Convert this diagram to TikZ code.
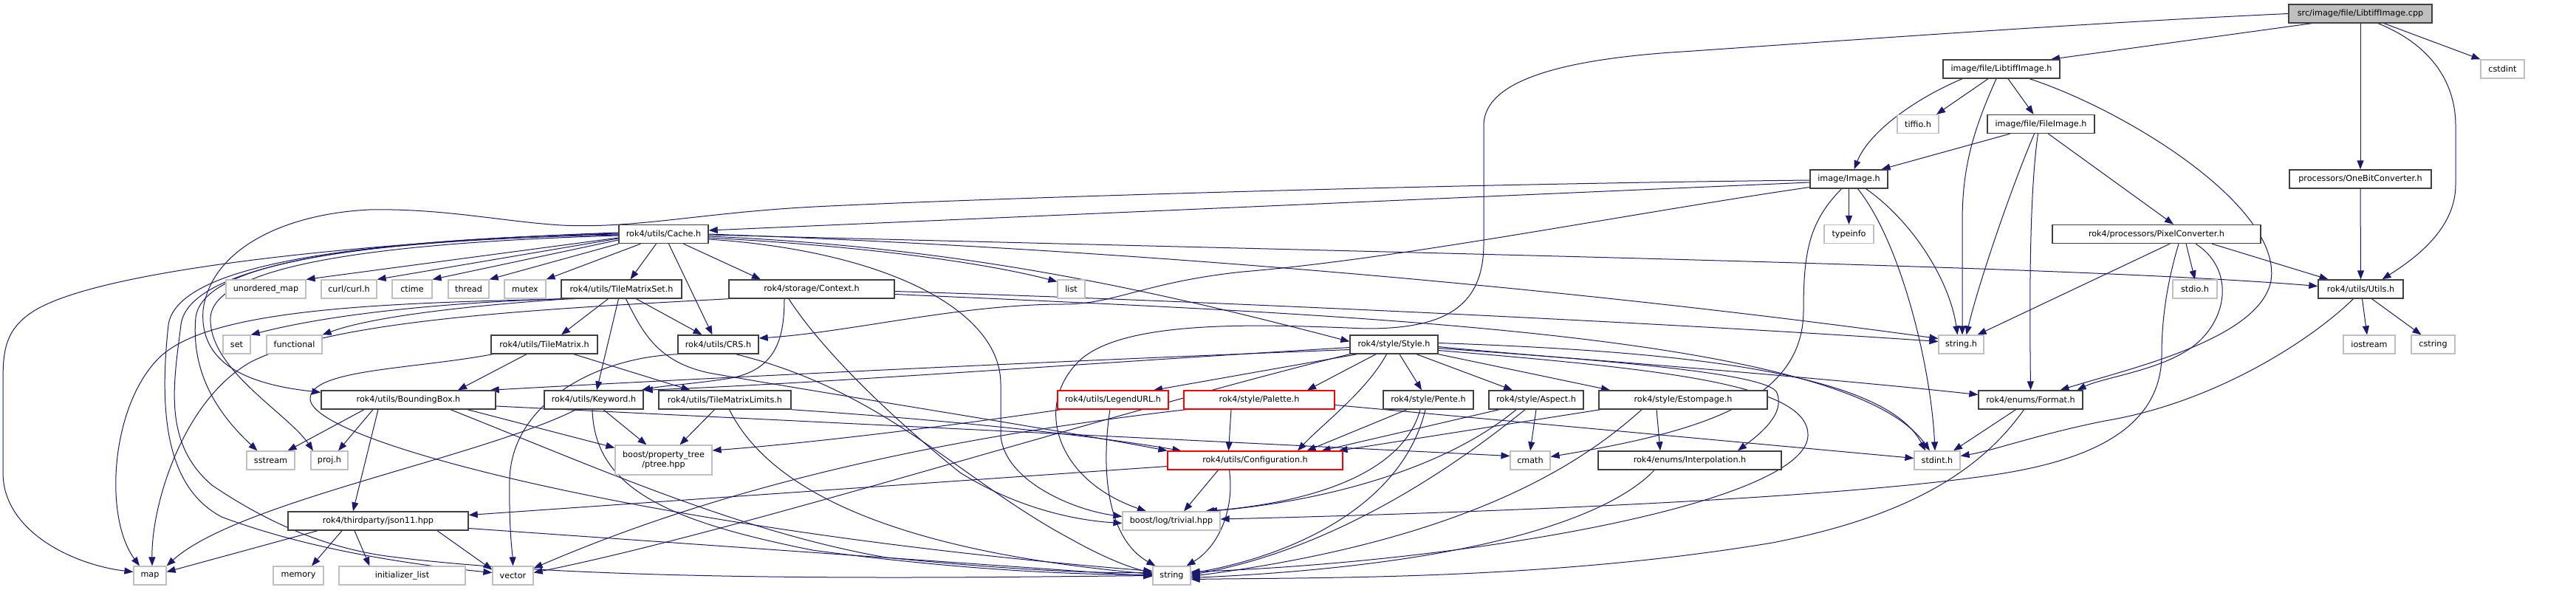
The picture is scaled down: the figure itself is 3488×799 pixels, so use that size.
\documentclass[tikz,border=0pt]{standalone}
\usepackage{fontspec}
\setmainfont{DejaVu Sans}
\usetikzlibrary{arrows.meta,backgrounds}
\definecolor{edgecol}{RGB}{25,25,112}
\definecolor{darkb}{RGB}{64,64,64}
\definecolor{greyb}{RGB}{191,191,191}
\definecolor{redb}{RGB}{255,0,0}
\definecolor{rootfill}{RGB}{191,191,191}
\newcommand{\mknode}[7]{\node[#1, minimum width=#5pt, minimum height=#6pt] (#2) at (#3,#4) {#7};}
\begin{document}
\begin{tikzpicture}[x=1pt,y=-1pt,
 base/.style={rectangle, inner sep=0pt, font=\fontsize{11.2}{13.4}\selectfont, align=center},
 nb/.style={base, draw=darkb, line width=1.4pt, fill=white},
 ng/.style={base, draw=greyb, line width=1.2pt, fill=white},
 nr/.style={base, draw=redb, line width=1.1pt, fill=white},
 nroot/.style={base, draw=darkb, line width=1.4pt, fill=rootfill},
 e/.style={draw=edgecol, line width=1pt, -{Triangle[length=12pt,width=9pt]}}]
\useasboundingbox (0,0) rectangle (3488,799);
% nodes
\mknode{nroot}{cpp}{3196}{18.5}{194}{25}{src/image/file/LibtiffImage.cpp}
\mknode{nb}{libh}{2710}{93.5}{158}{25}{image/file/LibtiffImage.h}
\mknode{ng}{cstdint}{3388.5}{93.5}{59}{25}{cstdint}
\mknode{ng}{tiffio}{2597}{168}{56}{25}{tiffio.h}
\mknode{nb}{fileimg}{2763.5}{168}{145}{25}{image/file/FileImage.h}
\mknode{nb}{image}{2503.5}{242.5}{105}{25}{image/Image.h}
\mknode{nb}{onebit}{3196}{242.5}{192}{25}{processors/OneBitConverter.h}
\mknode{nb}{cache}{898.5}{317}{121}{25}{rok4/utils/Cache.h}
\mknode{ng}{typeinfo}{2503.5}{317}{67}{25}{typeinfo}
\mknode{nb}{pixconv}{2920}{317}{282}{25}{rok4/processors/PixelConverter.h}
\mknode{ng}{umap}{360}{391.5}{108}{25}{unordered\_map}
\mknode{ng}{curl}{472.5}{391.5}{75}{25}{curl/curl.h}
\mknode{ng}{ctime}{558}{391.5}{54}{25}{ctime}
\mknode{ng}{thread}{634.5}{391.5}{55}{25}{thread}
\mknode{ng}{mutex}{711}{391.5}{56}{25}{mutex}
\mknode{nb}{tms}{841.5}{391.5}{163}{25}{rok4/utils/TileMatrixSet.h}
\mknode{nb}{context}{1099}{391.5}{224}{25}{rok4/storage/Context.h}
\mknode{ng}{list}{1450.5}{391.5}{37}{25}{list}
\mknode{nb}{utils}{3196.5}{391.5}{115}{25}{rok4/utils/Utils.h}
\mknode{ng}{stdio}{2972}{391.5}{60}{25}{stdio.h}
\mknode{ng}{set}{320.5}{466.5}{37}{25}{set}
\mknode{ng}{functional}{398.5}{466.5}{75}{25}{functional}
\mknode{nb}{tm}{737}{466.5}{144}{25}{rok4/utils/TileMatrix.h}
\mknode{nb}{crs}{972.5}{466.5}{109}{25}{rok4/utils/CRS.h}
\mknode{nb}{style}{1887.5}{466.5}{119}{25}{rok4/style/Style.h}
\mknode{ng}{stringh}{2655.5}{466.5}{61}{25}{string.h}
\mknode{ng}{iostream}{3208}{466.5}{70}{25}{iostream}
\mknode{ng}{cstring}{3294.5}{466.5}{59}{25}{cstring}
\mknode{nb}{bbox}{553}{541.5}{236}{25}{rok4/utils/BoundingBox.h}
\mknode{nb}{keyword}{804}{541.5}{134}{25}{rok4/utils/Keyword.h}
\mknode{nb}{tml}{981.5}{541.5}{179}{25}{rok4/utils/TileMatrixLimits.h}
\mknode{nr}{legend}{1507}{541.5}{150}{25}{rok4/utils/LegendURL.h}
\mknode{nr}{palette}{1705}{541.5}{204}{25}{rok4/style/Palette.h}
\mknode{nb}{pente}{1934}{541.5}{122}{25}{rok4/style/Pente.h}
\mknode{nb}{aspect}{2080}{541.5}{128}{25}{rok4/style/Aspect.h}
\mknode{nb}{estomp}{2279}{541.5}{228}{25}{rok4/style/Estompage.h}
\mknode{nb}{format}{2749.5}{541.5}{141}{25}{rok4/enums/Format.h}
\mknode{ng}{sstream}{366.5}{623.5}{65}{25}{sstream}
\mknode{ng}{proj}{446}{623.5}{50}{25}{proj.h}
\mknode{ng}{ptree}{898.5}{623}{131}{40}{boost/property\_tree\\/ptree.hpp}
\mknode{nr}{config}{1699.5}{623.5}{237}{25}{rok4/utils/Configuration.h}
\mknode{ng}{cmath}{2072}{623.5}{54}{25}{cmath}
\mknode{nb}{interp}{2288}{623.5}{248}{25}{rok4/enums/Interpolation.h}
\mknode{ng}{stdint}{2623}{623.5}{62}{25}{stdint.h}
\mknode{nb}{json}{512}{705.5}{244}{25}{rok4/thirdparty/json11.hpp}
\mknode{ng}{trivial}{1586}{705.5}{132}{25}{boost/log/trivial.hpp}
\mknode{ng}{map}{203}{779.5}{44}{25}{map}
\mknode{ng}{memory}{404}{779.5}{68}{25}{memory}
\mknode{ng}{initlist}{544.5}{779.5}{171}{25}{initializer\_list}
\mknode{ng}{vector}{694.5}{779.5}{55}{25}{vector}
\mknode{ng}{string}{1586.5}{779.5}{51}{25}{string}
\begin{pgfonlayer}{background}
\fill[white] (0,0) rectangle (3488,799);
% cpp
\draw[e] ([xshift=-66pt]cpp.south) -- ([xshift=67pt]libh.north);
\draw[e] (cpp.west) .. controls (2800,32) and (2400,62) .. (2263,71) .. controls (2080,84) and (2009,120) .. (2009,170) -- (2009,330) .. controls (2009,420) and (1950,445) .. (1850,445) .. controls (1720,440) and (1520,430) .. (1460,490) .. controls (1400,550) and (1430,650) .. ([xshift=-34pt]trivial.north);
\draw[e] (cpp.south) -- (onebit.north);
\draw[e] ([xshift=24pt]cpp.south) .. controls (3290,60) and (3325,110) .. (3325,170) -- (3325,250) .. controls (3325,310) and (3270,350) .. ([xshift=29pt]utils.north);
\draw[e] ([xshift=32pt]cpp.south) -- ([xshift=-30pt]cstdint.north);
% libh
\draw[e] ([xshift=-53pt]libh.south) .. controls (2590,135) and (2530,180) .. ([xshift=7pt]image.north);
\draw[e] ([xshift=-18pt]libh.south) -- ([xshift=25pt]tiffio.north);
\draw[e] ([xshift=-7pt]libh.south) .. controls (2670,180) and (2657,230) .. (2657,300) -- ([xshift=1.5pt]stringh.north);
\draw[e] ([xshift=9pt]libh.south) -- ([xshift=-10pt]fileimg.north);
\draw[e] ([xshift=38pt]libh.south) .. controls (2880,150) and (3090,280) .. (3075,380) .. controls (3060,460) and (2880,500) .. ([xshift=40pt]format.north);
% fileimg
\draw[e] ([xshift=-42pt]fileimg.south) -- ([xshift=44pt]image.north);
\draw[e] ([xshift=-9pt]fileimg.south) .. controls (2725,250) and (2680,380) .. ([xshift=7pt]stringh.north);
\draw[e] ([xshift=-4pt]fileimg.south) .. controls (2748,260) and (2748,400) .. (format.north);
\draw[e] ([xshift=10pt]fileimg.south) -- ([xshift=23pt]pixconv.north);
% onebit
\draw[e] (onebit.south) -- (utils.north);
% image
\draw[e] ([yshift=-1.5pt]image.west) .. controls (1900,250) and (1300,270) .. (1103,280) .. controls (950,288) and (860,310) .. (760,305) .. controls (680,300) and (600,282) .. (500,284) .. controls (380,290) and (285,340) .. (275,420) .. controls (270,490) and (330,520) .. ([yshift=-3pt]bbox.north west);
\draw[e] ([yshift=-4.5pt]image.west) -- ([yshift=5pt]cache.east);
\draw[e] ([yshift=-11pt]image.west) .. controls (2200,290) and (1900,350) .. (1683,368) .. controls (1550,382) and (1510,412) .. (1440,412) .. controls (1300,412) and (1150,450) .. ([yshift=8.5pt]crs.east);
\draw[e] (image.south) -- (typeinfo.north);
\draw[e] ([xshift=12pt]image.south) .. controls (2575,330) and (2615,500) .. ([xshift=-3pt]stdint.north);
\draw[e] ([xshift=23pt]image.south) .. controls (2590,300) and (2640,380) .. ([xshift=-5pt]stringh.north);
\draw[e] ([xshift=-10pt]image.south) .. controls (2450,300) and (2442,340) .. (2442,420) .. controls (2442,545) and (2300,585) .. ([yshift=5pt]cmath.east);
% utils
\draw[e] ([xshift=2pt]utils.south) -- ([xshift=-3pt]iostream.north);
\draw[e] ([xshift=15pt]utils.south) -- ([xshift=-16pt]cstring.north);
\draw[e] ([xshift=-10pt]utils.south) .. controls (3130,460) and (3000,545) .. (2850,570) .. controls (2760,588) and (2700,610) .. ([yshift=6pt]stdint.east);
% pixconv
\draw[e] ([xshift=18pt]pixconv.south) -- ([xshift=22pt]stringh.north);
\draw[e] ([xshift=40pt]pixconv.south) -- (stdio.north);
\draw[e] ([xshift=75pt]pixconv.south) -- ([xshift=-44pt]utils.north);
\draw[e] ([xshift=53pt]pixconv.south) .. controls (3020,360) and (3020,420) .. (2980,460) .. controls (2940,500) and (2850,510) .. ([xshift=63pt]format.north);
\draw[e] ([xshift=30pt]pixconv.south) .. controls (2935,380) and (2927,430) .. (2927,480) .. controls (2927,585) and (2820,625) .. (2700,643) .. controls (2450,680) and (1900,697) .. ([yshift=2.5pt]trivial.east);
% format
\draw[e] ([xshift=-20pt]format.south) -- ([xshift=22pt]stdint.north);
\draw[e] ([xshift=-9pt]format.south) .. controls (2680,640) and (2580,700) .. (2400,735) .. controls (2100,785) and (1800,782) .. ([yshift=-5pt]string.east);
% interp
\draw[e] ([xshift=-48pt]interp.south) .. controls (2180,700) and (2000,765) .. ([yshift=-3pt]string.east);
% estomp
\draw[e] ([xshift=-112pt]estomp.south) -- ([xshift=113pt]config.north);
\draw[e] ([xshift=-36pt]estomp.south) -- ([xshift=-40pt]interp.north);
\draw[e] ([xshift=-56pt]estomp.south) .. controls (2150,620) and (2000,730) .. ([yshift=-1pt]string.east);
% aspect
\draw[e] ([xshift=-50pt]aspect.south) -- ([xshift=90pt]config.north);
\draw[e] ([xshift=-27pt]aspect.south) .. controls (1950,640) and (1780,680) .. ([xshift=50pt]trivial.north);
\draw[e] ([xshift=-15pt]aspect.south) .. controls (1960,640) and (1800,745) .. ([yshift=1pt]string.east);
\draw[e] (aspect.south) -- (cmath.north);
% pente
\draw[e] ([xshift=-29pt]pente.south) -- ([xshift=70pt]config.north);
\draw[e] ([xshift=-11pt]pente.south) .. controls (1900,640) and (1780,680) .. ([xshift=46pt]trivial.north);
\draw[e] ([xshift=-4pt]pente.south) .. controls (1900,680) and (1760,750) .. ([yshift=3pt]string.east);
% style
\draw[e] ([yshift=-4pt]style.west) .. controls (1500,490) and (1100,520) .. (keyword.north east);
\draw[e] ([yshift=-7pt]style.west) .. controls (1400,490) and (900,515) .. ([xshift=-8pt]bbox.north east);
\draw[e] ([xshift=-50pt]style.south) -- ([xshift=55pt]legend.north);
\draw[e] ([xshift=-24.5pt]style.south) -- ([xshift=65pt]palette.north);
\draw[e] ([xshift=-10pt]style.south) .. controls (1850,530) and (1790,575) .. ([xshift=57.5pt]config.north);
\draw[e] ([xshift=7.5pt]style.south) -- ([xshift=-9pt]pente.north);
\draw[e] ([xshift=30.5pt]style.south) -- ([xshift=-32pt]aspect.north);
\draw[e] (style.south east) -- ([xshift=-99pt]estomp.north);
\draw[e] ([yshift=-3pt]style.east) .. controls (2100,485) and (2380,500) .. (2405,530) .. controls (2420,560) and (2380,590) .. ([xshift=65pt]interp.north);
\draw[e] ([yshift=-5pt]style.east) .. controls (2200,490) and (2500,515) .. ([yshift=7pt]format.west);
\draw[e] ([yshift=2pt]style.east) .. controls (2250,475) and (2550,500) .. ([xshift=-16pt]stdint.north);
\draw[e] ([yshift=-8pt]style.east) .. controls (2250,500) and (2450,520) .. (2448,590) .. controls (2445,680) and (2000,760) .. ([yshift=5pt]string.east);
\draw[e] (style.south west) .. controls (1500,560) and (1000,720) .. ([yshift=4pt]vector.east);
% legend
\draw[e] ([xshift=-70pt]legend.south) .. controls (1300,575) and (1100,600) .. ([yshift=13pt]ptree.east);
\draw[e] ([xshift=-4pt]legend.south) .. controls (1490,640) and (1500,730) .. ([xshift=-22pt]string.north);
% palette
\draw[e] ([xshift=-38pt]palette.south) -- ([xshift=-36pt]config.north);
\draw[e] ([yshift=-7pt]palette.east) -- ([yshift=3pt]stdint.west);
\draw[e] ([xshift=-98pt]palette.south) .. controls (1300,590) and (1000,650) .. ([yshift=10pt]vector.east);
% config
\draw[e] ([yshift=-8pt]config.west) -- ([yshift=8pt]json.east);
\draw[e] ([xshift=-50pt]config.south) -- ([xshift=17pt]trivial.north);
\draw[e] ([xshift=-35pt]config.south) .. controls (1672,690) and (1650,740) .. ([xshift=20pt]string.north);
% json
\draw[e] ([xshift=-82pt]json.south) -- ([yshift=5pt]map.east);
\draw[e] ([xshift=-49pt]json.south) -- ([xshift=18pt]memory.north);
\draw[e] ([xshift=-32pt]json.south) -- ([xshift=-44pt]initlist.north);
\draw[e] ([xshift=80pt]json.south) -- ([yshift=8pt]vector.west);
\draw[e] ([yshift=-10pt]json.east) -- ([yshift=-1pt]string.west);
% keyword
\draw[e] ([xshift=13pt]keyword.south) -- ([xshift=-23pt]ptree.north);
\draw[e] ([xshift=-2pt]keyword.south) .. controls (805,660) and (900,705) .. (1100,745) .. controls (1300,772) and (1450,778) .. ([yshift=1pt]string.west);
\draw[e] ([xshift=-24pt]keyword.south) .. controls (650,620) and (320,680) .. (map.north east);
% tml
\draw[e] ([xshift=-14pt]tml.south) -- ([xshift=22pt]ptree.north);
\draw[e] ([xshift=6pt]tml.south) .. controls (1040,660) and (1200,745) .. ([yshift=2pt]string.west);
\draw[e] (tml.south east) .. controls (1300,570) and (1480,590) .. ([xshift=-100pt]config.north);
% tm
\draw[e] ([xshift=-24pt]tm.south) -- ([xshift=67pt]bbox.north);
\draw[e] ([xshift=40pt]tm.south) -- ([xshift=-47pt]tml.north);
\draw[e] ([xshift=-70pt]tm.south) .. controls (560,500) and (420,500) .. (420,540) .. controls (420,600) and (900,720) .. ([yshift=6pt]string.west);
% crs
\draw[e] (crs.south west) .. controls (800,485) and (692,550) .. (690,650) .. controls (689,720) and (694,750) .. (vector.north);
\draw[e] ([xshift=24pt]crs.south) .. controls (1200,530) and (1300,650) .. (1450,730) .. controls (1500,758) and (1530,768) .. ([yshift=3pt]string.west);
% bbox
\draw[e] ([xshift=-60pt]bbox.south) -- ([xshift=23pt]sstream.north);
\draw[e] ([xshift=-48pt]bbox.south) -- ([xshift=12pt]proj.north);
\draw[e] ([xshift=-41pt]bbox.south) -- ([xshift=-34pt]json.north);
\draw[e] ([xshift=80pt]bbox.south) -- ([yshift=-4pt]ptree.north west);
\draw[e] ([yshift=-8.5pt]bbox.east) -- ([yshift=6pt]cmath.west);
\draw[e] ([xshift=57pt]bbox.south) .. controls (800,630) and (1000,720) .. (1200,755) .. controls (1400,775) and (1500,776) .. ([yshift=4pt]string.west);
% tms
\draw[e] ([xshift=-18pt]tms.south) -- ([xshift=23pt]tm.north);
\draw[e] ([xshift=-4pt]tms.south) -- ([xshift=4pt]keyword.north);
\draw[e] ([xshift=20pt]tms.south) -- ([xshift=-22pt]crs.north);
\draw[e] ([xshift=6pt]tms.south) .. controls (870,450) and (890,490) .. (960,505) .. controls (1100,530) and (1450,585) .. (config.north west);
\draw[e] (tms.south west) .. controls (600,410) and (450,425) .. (set.north east);
\draw[e] ([xshift=10pt]tms.south west) .. controls (620,415) and (500,430) .. (functional.north east);
\draw[e] ([xshift=20pt]tms.south west) .. controls (500,410) and (280,420) .. (215,485) .. controls (150,550) and (140,700) .. ([xshift=-14pt]map.north);
% context
\draw[e] (context.south west) .. controls (700,420) and (450,435) .. (340,490) .. controls (250,540) and (205,680) .. ([xshift=3pt]map.north);
\draw[e] ([xshift=-37pt]context.south) .. controls (1062,460) and (1050,500) .. (990,512) .. controls (940,520) and (900,522) .. ([xshift=-3pt]keyword.north east);
\draw[e] ([xshift=-31pt]context.south) .. controls (1110,470) and (1200,560) .. (1300,640) .. controls (1380,690) and (1460,705) .. ([yshift=-3pt]trivial.west);
\draw[e] ([yshift=-3pt]context.east) .. controls (1700,410) and (2300,440) .. ([yshift=4pt]stringh.west);
\draw[e] ([yshift=-7pt]context.east) .. controls (1800,425) and (2500,450) .. ([xshift=-10pt]stdint.north);
% cache
\draw[e] ([yshift=-5pt]cache.west) -- (umap.north east);
\draw[e] ([yshift=-6pt]cache.west) -- (curl.north east);
\draw[e] ([yshift=-8pt]cache.west) -- (ctime.north east);
\draw[e] (cache.south west) -- (thread.north east);
\draw[e] ([xshift=-31pt]cache.south) -- (mutex.north east);
\draw[e] ([xshift=-10pt]cache.south) -- ([xshift=12pt]tms.north);
\draw[e] ([xshift=7pt]cache.south) -- ([xshift=-8pt]crs.north);
\draw[e] ([xshift=27pt]cache.south) -- ([xshift=-69pt]context.north);
\draw[e] ([yshift=-5pt]cache.east) .. controls (1200,335) and (1350,360) .. ([yshift=-3pt]list.north west);
\draw[e] ([yshift=-3pt]cache.east) .. controls (1300,335) and (1550,390) .. ([yshift=4pt]style.west);
\draw[e] ([yshift=-1pt]cache.east) .. controls (2000,345) and (2800,360) .. ([yshift=4pt]utils.west);
\draw[e] (cache.east) .. controls (1600,340) and (2200,400) .. ([yshift=8pt]stringh.west);
\draw[e] ([yshift=-7pt]cache.east) .. controls (1200,340) and (1355,420) .. (1355,520) -- (1355,590) .. controls (1360,650) and (1450,690) .. ([yshift=6pt]trivial.west);
\draw[e] ([yshift=2pt]cache.west) .. controls (550,325) and (130,360) .. (40,425) .. controls (5,450) and (4,480) .. (4,520) -- (4,640) .. controls (4,720) and (100,765) .. ([yshift=5pt]map.west);
\draw[e] ([yshift=1pt]cache.west) .. controls (500,325) and (240,355) .. (228,440) .. controls (215,560) and (225,660) .. (300,700) .. controls (420,745) and (560,765) .. ([yshift=4pt]vector.west);
\draw[e] (cache.west) .. controls (520,322) and (255,355) .. (245,440) .. controls (235,520) and (220,600) .. (287,657) .. controls (350,700) and (430,740) .. (523,753) .. controls (800,790) and (1300,782) .. (string.west);
\draw[e] ([yshift=-1pt]cache.west) .. controls (520,325) and (275,350) .. (265,430) .. controls (258,510) and (300,565) .. ([xshift=-18pt]sstream.north);
\draw[e] ([yshift=-2pt]cache.west) .. controls (540,328) and (290,355) .. (285,430) .. controls (282,500) and (390,560) .. ([xshift=-22pt]proj.north);
\end{pgfonlayer}
\end{tikzpicture}
\end{document}
